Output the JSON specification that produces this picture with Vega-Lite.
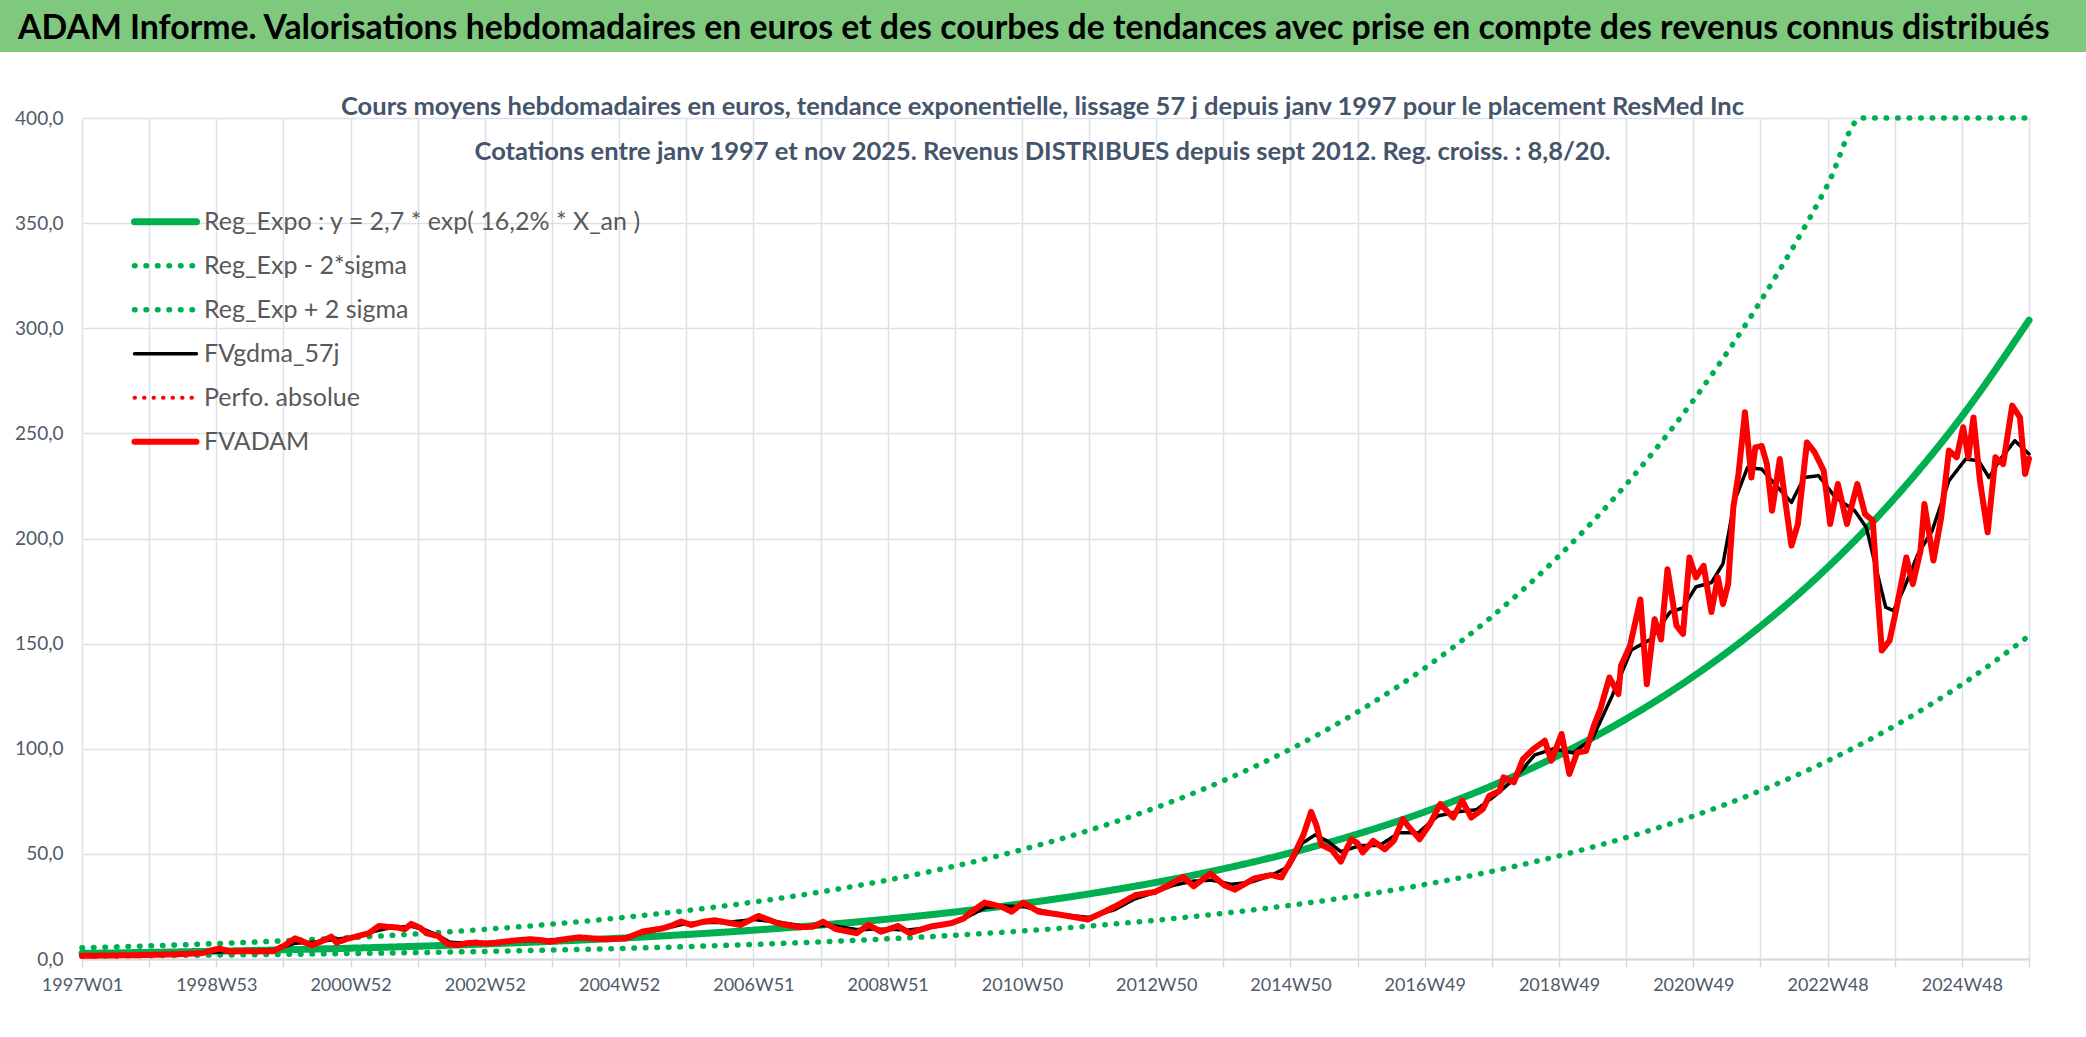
{
  "$schema": "https://vega.github.io/schema/vega-lite/v6.json",
  "padding": 0,
  "background": "white",
  "config": {"view": {"stroke": null}},
  "spacing": 42,
  "datasets": {
    "trend": [
      {"i":0,"v":2.68,"s":"Reg_Expo : y = 2,7 * exp( 16,2% *  X_an )"},
      {"i":52,"v":3.155,"s":"Reg_Expo : y = 2,7 * exp( 16,2% *  X_an )"},
      {"i":104,"v":3.714,"s":"Reg_Expo : y = 2,7 * exp( 16,2% *  X_an )"},
      {"i":156,"v":4.372,"s":"Reg_Expo : y = 2,7 * exp( 16,2% *  X_an )"},
      {"i":208,"v":5.146,"s":"Reg_Expo : y = 2,7 * exp( 16,2% *  X_an )"},
      {"i":260,"v":6.058,"s":"Reg_Expo : y = 2,7 * exp( 16,2% *  X_an )"},
      {"i":312,"v":7.132,"s":"Reg_Expo : y = 2,7 * exp( 16,2% *  X_an )"},
      {"i":364,"v":8.395,"s":"Reg_Expo : y = 2,7 * exp( 16,2% *  X_an )"},
      {"i":416,"v":9.883,"s":"Reg_Expo : y = 2,7 * exp( 16,2% *  X_an )"},
      {"i":468,"v":11.634,"s":"Reg_Expo : y = 2,7 * exp( 16,2% *  X_an )"},
      {"i":520,"v":13.695,"s":"Reg_Expo : y = 2,7 * exp( 16,2% *  X_an )"},
      {"i":572,"v":16.122,"s":"Reg_Expo : y = 2,7 * exp( 16,2% *  X_an )"},
      {"i":624,"v":18.978,"s":"Reg_Expo : y = 2,7 * exp( 16,2% *  X_an )"},
      {"i":676,"v":22.341,"s":"Reg_Expo : y = 2,7 * exp( 16,2% *  X_an )"},
      {"i":728,"v":26.299,"s":"Reg_Expo : y = 2,7 * exp( 16,2% *  X_an )"},
      {"i":780,"v":30.959,"s":"Reg_Expo : y = 2,7 * exp( 16,2% *  X_an )"},
      {"i":832,"v":36.444,"s":"Reg_Expo : y = 2,7 * exp( 16,2% *  X_an )"},
      {"i":884,"v":42.901,"s":"Reg_Expo : y = 2,7 * exp( 16,2% *  X_an )"},
      {"i":936,"v":50.503,"s":"Reg_Expo : y = 2,7 * exp( 16,2% *  X_an )"},
      {"i":988,"v":59.451,"s":"Reg_Expo : y = 2,7 * exp( 16,2% *  X_an )"},
      {"i":1040,"v":69.985,"s":"Reg_Expo : y = 2,7 * exp( 16,2% *  X_an )"},
      {"i":1092,"v":82.385,"s":"Reg_Expo : y = 2,7 * exp( 16,2% *  X_an )"},
      {"i":1144,"v":96.982,"s":"Reg_Expo : y = 2,7 * exp( 16,2% *  X_an )"},
      {"i":1196,"v":114.165,"s":"Reg_Expo : y = 2,7 * exp( 16,2% *  X_an )"},
      {"i":1248,"v":134.393,"s":"Reg_Expo : y = 2,7 * exp( 16,2% *  X_an )"},
      {"i":1300,"v":158.205,"s":"Reg_Expo : y = 2,7 * exp( 16,2% *  X_an )"},
      {"i":1352,"v":186.236,"s":"Reg_Expo : y = 2,7 * exp( 16,2% *  X_an )"},
      {"i":1404,"v":219.234,"s":"Reg_Expo : y = 2,7 * exp( 16,2% *  X_an )"},
      {"i":1456,"v":258.078,"s":"Reg_Expo : y = 2,7 * exp( 16,2% *  X_an )"},
      {"i":1508,"v":303.804,"s":"Reg_Expo : y = 2,7 * exp( 16,2% *  X_an )"},
      {"i":0,"v":1.356,"s":"Reg_Exp - 2*sigma"},
      {"i":52,"v":1.596,"s":"Reg_Exp - 2*sigma"},
      {"i":104,"v":1.879,"s":"Reg_Exp - 2*sigma"},
      {"i":156,"v":2.212,"s":"Reg_Exp - 2*sigma"},
      {"i":208,"v":2.604,"s":"Reg_Exp - 2*sigma"},
      {"i":260,"v":3.065,"s":"Reg_Exp - 2*sigma"},
      {"i":312,"v":3.609,"s":"Reg_Exp - 2*sigma"},
      {"i":364,"v":4.248,"s":"Reg_Exp - 2*sigma"},
      {"i":416,"v":5.001,"s":"Reg_Exp - 2*sigma"},
      {"i":468,"v":5.887,"s":"Reg_Exp - 2*sigma"},
      {"i":520,"v":6.93,"s":"Reg_Exp - 2*sigma"},
      {"i":572,"v":8.158,"s":"Reg_Exp - 2*sigma"},
      {"i":624,"v":9.603,"s":"Reg_Exp - 2*sigma"},
      {"i":676,"v":11.305,"s":"Reg_Exp - 2*sigma"},
      {"i":728,"v":13.307,"s":"Reg_Exp - 2*sigma"},
      {"i":780,"v":15.665,"s":"Reg_Exp - 2*sigma"},
      {"i":832,"v":18.441,"s":"Reg_Exp - 2*sigma"},
      {"i":884,"v":21.708,"s":"Reg_Exp - 2*sigma"},
      {"i":936,"v":25.555,"s":"Reg_Exp - 2*sigma"},
      {"i":988,"v":30.082,"s":"Reg_Exp - 2*sigma"},
      {"i":1040,"v":35.412,"s":"Reg_Exp - 2*sigma"},
      {"i":1092,"v":41.687,"s":"Reg_Exp - 2*sigma"},
      {"i":1144,"v":49.073,"s":"Reg_Exp - 2*sigma"},
      {"i":1196,"v":57.767,"s":"Reg_Exp - 2*sigma"},
      {"i":1248,"v":68.003,"s":"Reg_Exp - 2*sigma"},
      {"i":1300,"v":80.052,"s":"Reg_Exp - 2*sigma"},
      {"i":1352,"v":94.235,"s":"Reg_Exp - 2*sigma"},
      {"i":1404,"v":110.932,"s":"Reg_Exp - 2*sigma"},
      {"i":1456,"v":130.587,"s":"Reg_Exp - 2*sigma"},
      {"i":1508,"v":153.725,"s":"Reg_Exp - 2*sigma"},
      {"i":0,"v":5.298,"s":"Reg_Exp + 2 sigma"},
      {"i":52,"v":6.237,"s":"Reg_Exp + 2 sigma"},
      {"i":104,"v":7.343,"s":"Reg_Exp + 2 sigma"},
      {"i":156,"v":8.643,"s":"Reg_Exp + 2 sigma"},
      {"i":208,"v":10.174,"s":"Reg_Exp + 2 sigma"},
      {"i":260,"v":11.977,"s":"Reg_Exp + 2 sigma"},
      {"i":312,"v":14.1,"s":"Reg_Exp + 2 sigma"},
      {"i":364,"v":16.597,"s":"Reg_Exp + 2 sigma"},
      {"i":416,"v":19.539,"s":"Reg_Exp + 2 sigma"},
      {"i":468,"v":23.0,"s":"Reg_Exp + 2 sigma"},
      {"i":520,"v":27.075,"s":"Reg_Exp + 2 sigma"},
      {"i":572,"v":31.873,"s":"Reg_Exp + 2 sigma"},
      {"i":624,"v":37.52,"s":"Reg_Exp + 2 sigma"},
      {"i":676,"v":44.168,"s":"Reg_Exp + 2 sigma"},
      {"i":728,"v":51.993,"s":"Reg_Exp + 2 sigma"},
      {"i":780,"v":61.206,"s":"Reg_Exp + 2 sigma"},
      {"i":832,"v":72.05,"s":"Reg_Exp + 2 sigma"},
      {"i":884,"v":84.815,"s":"Reg_Exp + 2 sigma"},
      {"i":936,"v":99.844,"s":"Reg_Exp + 2 sigma"},
      {"i":988,"v":117.535,"s":"Reg_Exp + 2 sigma"},
      {"i":1040,"v":138.36,"s":"Reg_Exp + 2 sigma"},
      {"i":1092,"v":162.875,"s":"Reg_Exp + 2 sigma"},
      {"i":1144,"v":191.733,"s":"Reg_Exp + 2 sigma"},
      {"i":1196,"v":225.704,"s":"Reg_Exp + 2 sigma"},
      {"i":1248,"v":265.695,"s":"Reg_Exp + 2 sigma"},
      {"i":1300,"v":312.771,"s":"Reg_Exp + 2 sigma"},
      {"i":1352,"v":368.189,"s":"Reg_Exp + 2 sigma"},
      {"i":1378,"v":400,"s":"Reg_Exp + 2 sigma"},
      {"i":1404,"v":400,"s":"Reg_Exp + 2 sigma"},
      {"i":1456,"v":400,"s":"Reg_Exp + 2 sigma"},
      {"i":1508,"v":400,"s":"Reg_Exp + 2 sigma"}
    ],
    "gdma": [
      {"i":0,"v":1.5,"s":"FVgdma_57j"},{"i":50,"v":1.9,"s":"FVgdma_57j"},{"i":100,"v":3.2,"s":"FVgdma_57j"},{"i":125,"v":3.8,"s":"FVgdma_57j"},{"i":150,"v":4.5,"s":"FVgdma_57j"},{"i":165,"v":7.5,"s":"FVgdma_57j"},{"i":180,"v":8,"s":"FVgdma_57j"},{"i":195,"v":9.2,"s":"FVgdma_57j"},{"i":210,"v":10.5,"s":"FVgdma_57j"},{"i":225,"v":13,"s":"FVgdma_57j"},{"i":240,"v":15,"s":"FVgdma_57j"},{"i":255,"v":15.5,"s":"FVgdma_57j"},{"i":265,"v":14,"s":"FVgdma_57j"},{"i":275,"v":11.5,"s":"FVgdma_57j"},{"i":285,"v":8,"s":"FVgdma_57j"},{"i":300,"v":7.4,"s":"FVgdma_57j"},{"i":320,"v":7.7,"s":"FVgdma_57j"},{"i":340,"v":8.8,"s":"FVgdma_57j"},{"i":360,"v":8.8,"s":"FVgdma_57j"},{"i":380,"v":9.8,"s":"FVgdma_57j"},{"i":400,"v":9.7,"s":"FVgdma_57j"},{"i":420,"v":10,"s":"FVgdma_57j"},{"i":435,"v":12.5,"s":"FVgdma_57j"},{"i":450,"v":14.3,"s":"FVgdma_57j"},{"i":465,"v":16.5,"s":"FVgdma_57j"},{"i":480,"v":17.4,"s":"FVgdma_57j"},{"i":500,"v":17.4,"s":"FVgdma_57j"},{"i":520,"v":18.8,"s":"FVgdma_57j"},{"i":540,"v":17.5,"s":"FVgdma_57j"},{"i":560,"v":15.5,"s":"FVgdma_57j"},{"i":580,"v":16,"s":"FVgdma_57j"},{"i":600,"v":14,"s":"FVgdma_57j"},{"i":620,"v":14.2,"s":"FVgdma_57j"},{"i":640,"v":13.8,"s":"FVgdma_57j"},{"i":660,"v":15.2,"s":"FVgdma_57j"},{"i":680,"v":18.2,"s":"FVgdma_57j"},{"i":700,"v":24.5,"s":"FVgdma_57j"},{"i":715,"v":25.2,"s":"FVgdma_57j"},{"i":730,"v":24.8,"s":"FVgdma_57j"},{"i":745,"v":22.8,"s":"FVgdma_57j"},{"i":760,"v":21,"s":"FVgdma_57j"},{"i":780,"v":19.8,"s":"FVgdma_57j"},{"i":800,"v":23.5,"s":"FVgdma_57j"},{"i":815,"v":28.5,"s":"FVgdma_57j"},{"i":830,"v":31.5,"s":"FVgdma_57j"},{"i":845,"v":35,"s":"FVgdma_57j"},{"i":860,"v":37,"s":"FVgdma_57j"},{"i":875,"v":37.5,"s":"FVgdma_57j"},{"i":890,"v":35.5,"s":"FVgdma_57j"},{"i":905,"v":36.5,"s":"FVgdma_57j"},{"i":920,"v":39.5,"s":"FVgdma_57j"},{"i":935,"v":44,"s":"FVgdma_57j"},{"i":945,"v":55,"s":"FVgdma_57j"},{"i":955,"v":59,"s":"FVgdma_57j"},{"i":965,"v":56,"s":"FVgdma_57j"},{"i":975,"v":51,"s":"FVgdma_57j"},{"i":990,"v":54,"s":"FVgdma_57j"},{"i":1005,"v":54,"s":"FVgdma_57j"},{"i":1020,"v":60,"s":"FVgdma_57j"},{"i":1035,"v":60,"s":"FVgdma_57j"},{"i":1050,"v":68,"s":"FVgdma_57j"},{"i":1065,"v":70,"s":"FVgdma_57j"},{"i":1080,"v":71,"s":"FVgdma_57j"},{"i":1095,"v":78,"s":"FVgdma_57j"},{"i":1110,"v":86,"s":"FVgdma_57j"},{"i":1125,"v":97,"s":"FVgdma_57j"},{"i":1140,"v":100,"s":"FVgdma_57j"},{"i":1155,"v":98,"s":"FVgdma_57j"},{"i":1170,"v":105,"s":"FVgdma_57j"},{"i":1185,"v":125,"s":"FVgdma_57j"},{"i":1200,"v":147,"s":"FVgdma_57j"},{"i":1215,"v":152,"s":"FVgdma_57j"},{"i":1230,"v":165,"s":"FVgdma_57j"},{"i":1240,"v":167,"s":"FVgdma_57j"},{"i":1250,"v":177,"s":"FVgdma_57j"},{"i":1262,"v":179,"s":"FVgdma_57j"},{"i":1271,"v":188,"s":"FVgdma_57j"},{"i":1280,"v":218,"s":"FVgdma_57j"},{"i":1290,"v":233.8,"s":"FVgdma_57j"},{"i":1301,"v":233,"s":"FVgdma_57j"},{"i":1311,"v":226,"s":"FVgdma_57j"},{"i":1324,"v":217.2,"s":"FVgdma_57j"},{"i":1334,"v":229,"s":"FVgdma_57j"},{"i":1345,"v":229.9,"s":"FVgdma_57j"},{"i":1358,"v":219.6,"s":"FVgdma_57j"},{"i":1373,"v":213.2,"s":"FVgdma_57j"},{"i":1382,"v":205.3,"s":"FVgdma_57j"},{"i":1390,"v":184.7,"s":"FVgdma_57j"},{"i":1397,"v":167.3,"s":"FVgdma_57j"},{"i":1403,"v":165.7,"s":"FVgdma_57j"},{"i":1411,"v":176,"s":"FVgdma_57j"},{"i":1422,"v":192.6,"s":"FVgdma_57j"},{"i":1433,"v":203.7,"s":"FVgdma_57j"},{"i":1446,"v":227.5,"s":"FVgdma_57j"},{"i":1459,"v":237.8,"s":"FVgdma_57j"},{"i":1469,"v":237,"s":"FVgdma_57j"},{"i":1477,"v":229,"s":"FVgdma_57j"},{"i":1485,"v":237,"s":"FVgdma_57j"},{"i":1497,"v":246.5,"s":"FVgdma_57j"},{"i":1508,"v":240.2,"s":"FVgdma_57j"}
    ],
    "adam": [
      {"i":0,"v":1.5,"s":"FVADAM"},{"i":25,"v":1.7,"s":"FVADAM"},{"i":51,"v":1.9,"s":"FVADAM"},{"i":75,"v":2.3,"s":"FVADAM"},{"i":93,"v":2.8,"s":"FVADAM"},{"i":106,"v":5.0,"s":"FVADAM"},{"i":115,"v":3.5,"s":"FVADAM"},{"i":125,"v":3.8,"s":"FVADAM"},{"i":135,"v":3.6,"s":"FVADAM"},{"i":148,"v":3.7,"s":"FVADAM"},{"i":157,"v":6.5,"s":"FVADAM"},{"i":165,"v":9.8,"s":"FVADAM"},{"i":178,"v":6.6,"s":"FVADAM"},{"i":186,"v":8.5,"s":"FVADAM"},{"i":193,"v":10.6,"s":"FVADAM"},{"i":197,"v":7.8,"s":"FVADAM"},{"i":205,"v":9.5,"s":"FVADAM"},{"i":212,"v":10.6,"s":"FVADAM"},{"i":222,"v":12.2,"s":"FVADAM"},{"i":230,"v":15.7,"s":"FVADAM"},{"i":237,"v":15.3,"s":"FVADAM"},{"i":244,"v":15.0,"s":"FVADAM"},{"i":250,"v":14.2,"s":"FVADAM"},{"i":255,"v":16.7,"s":"FVADAM"},{"i":262,"v":14.8,"s":"FVADAM"},{"i":267,"v":12.2,"s":"FVADAM"},{"i":276,"v":10.9,"s":"FVADAM"},{"i":283,"v":7.1,"s":"FVADAM"},{"i":291,"v":6.6,"s":"FVADAM"},{"i":298,"v":7.5,"s":"FVADAM"},{"i":305,"v":7.8,"s":"FVADAM"},{"i":313,"v":7.3,"s":"FVADAM"},{"i":321,"v":7.8,"s":"FVADAM"},{"i":335,"v":8.8,"s":"FVADAM"},{"i":347,"v":9.4,"s":"FVADAM"},{"i":355,"v":9.0,"s":"FVADAM"},{"i":363,"v":8.3,"s":"FVADAM"},{"i":375,"v":9.5,"s":"FVADAM"},{"i":385,"v":10.3,"s":"FVADAM"},{"i":395,"v":9.8,"s":"FVADAM"},{"i":405,"v":9.4,"s":"FVADAM"},{"i":413,"v":9.6,"s":"FVADAM"},{"i":421,"v":9.8,"s":"FVADAM"},{"i":434,"v":13.0,"s":"FVADAM"},{"i":442,"v":13.8,"s":"FVADAM"},{"i":450,"v":14.6,"s":"FVADAM"},{"i":457,"v":16.0,"s":"FVADAM"},{"i":464,"v":17.8,"s":"FVADAM"},{"i":472,"v":16.2,"s":"FVADAM"},{"i":481,"v":17.7,"s":"FVADAM"},{"i":490,"v":18.4,"s":"FVADAM"},{"i":500,"v":17.3,"s":"FVADAM"},{"i":510,"v":16.2,"s":"FVADAM"},{"i":524,"v":20.5,"s":"FVADAM"},{"i":539,"v":17.0,"s":"FVADAM"},{"i":555,"v":15.1,"s":"FVADAM"},{"i":566,"v":15.4,"s":"FVADAM"},{"i":574,"v":17.7,"s":"FVADAM"},{"i":584,"v":14.2,"s":"FVADAM"},{"i":600,"v":12.3,"s":"FVADAM"},{"i":609,"v":16.2,"s":"FVADAM"},{"i":619,"v":13.0,"s":"FVADAM"},{"i":632,"v":15.7,"s":"FVADAM"},{"i":641,"v":12.3,"s":"FVADAM"},{"i":657,"v":15.4,"s":"FVADAM"},{"i":673,"v":17.0,"s":"FVADAM"},{"i":683,"v":19.3,"s":"FVADAM"},{"i":689,"v":22.5,"s":"FVADAM"},{"i":699,"v":26.8,"s":"FVADAM"},{"i":712,"v":24.9,"s":"FVADAM"},{"i":720,"v":22.5,"s":"FVADAM"},{"i":729,"v":26.8,"s":"FVADAM"},{"i":741,"v":22.5,"s":"FVADAM"},{"i":754,"v":21.4,"s":"FVADAM"},{"i":763,"v":20.5,"s":"FVADAM"},{"i":779,"v":18.8,"s":"FVADAM"},{"i":792,"v":22.5,"s":"FVADAM"},{"i":802,"v":25.6,"s":"FVADAM"},{"i":816,"v":30.4,"s":"FVADAM"},{"i":831,"v":31.9,"s":"FVADAM"},{"i":840,"v":34.6,"s":"FVADAM"},{"i":853,"v":39.0,"s":"FVADAM"},{"i":861,"v":34.6,"s":"FVADAM"},{"i":874,"v":40.6,"s":"FVADAM"},{"i":885,"v":35.0,"s":"FVADAM"},{"i":893,"v":33.0,"s":"FVADAM"},{"i":908,"v":38.3,"s":"FVADAM"},{"i":921,"v":39.9,"s":"FVADAM"},{"i":929,"v":38.8,"s":"FVADAM"},{"i":938,"v":48.6,"s":"FVADAM"},{"i":946,"v":59.0,"s":"FVADAM"},{"i":952,"v":70.0,"s":"FVADAM"},{"i":956,"v":63.7,"s":"FVADAM"},{"i":960,"v":54.3,"s":"FVADAM"},{"i":968,"v":51.9,"s":"FVADAM"},{"i":975,"v":46.3,"s":"FVADAM"},{"i":983,"v":57.0,"s":"FVADAM"},{"i":988,"v":55.0,"s":"FVADAM"},{"i":992,"v":50.7,"s":"FVADAM"},{"i":1000,"v":56.2,"s":"FVADAM"},{"i":1009,"v":52.2,"s":"FVADAM"},{"i":1016,"v":56.2,"s":"FVADAM"},{"i":1023,"v":66.5,"s":"FVADAM"},{"i":1028,"v":62.6,"s":"FVADAM"},{"i":1036,"v":57.0,"s":"FVADAM"},{"i":1044,"v":64.2,"s":"FVADAM"},{"i":1052,"v":73.7,"s":"FVADAM"},{"i":1062,"v":67.3,"s":"FVADAM"},{"i":1069,"v":75.3,"s":"FVADAM"},{"i":1076,"v":67.3,"s":"FVADAM"},{"i":1085,"v":71.3,"s":"FVADAM"},{"i":1090,"v":77.6,"s":"FVADAM"},{"i":1098,"v":80.0,"s":"FVADAM"},{"i":1101,"v":86.4,"s":"FVADAM"},{"i":1109,"v":84.0,"s":"FVADAM"},{"i":1116,"v":95.0,"s":"FVADAM"},{"i":1124,"v":99.8,"s":"FVADAM"},{"i":1133,"v":103.8,"s":"FVADAM"},{"i":1138,"v":94.3,"s":"FVADAM"},{"i":1146,"v":107.0,"s":"FVADAM"},{"i":1152,"v":88.0,"s":"FVADAM"},{"i":1158,"v":98.2,"s":"FVADAM"},{"i":1165,"v":99.0,"s":"FVADAM"},{"i":1171,"v":111.0,"s":"FVADAM"},{"i":1176,"v":118.8,"s":"FVADAM"},{"i":1183,"v":133.9,"s":"FVADAM"},{"i":1190,"v":126.0,"s":"FVADAM"},{"i":1192,"v":139.5,"s":"FVADAM"},{"i":1199,"v":149.0,"s":"FVADAM"},{"i":1207,"v":171.0,"s":"FVADAM"},{"i":1212,"v":130.7,"s":"FVADAM"},{"i":1218,"v":161.6,"s":"FVADAM"},{"i":1223,"v":152.0,"s":"FVADAM"},{"i":1228,"v":185.4,"s":"FVADAM"},{"i":1235,"v":158.5,"s":"FVADAM"},{"i":1240,"v":154.6,"s":"FVADAM"},{"i":1245,"v":191.0,"s":"FVADAM"},{"i":1250,"v":181.5,"s":"FVADAM"},{"i":1256,"v":187.0,"s":"FVADAM"},{"i":1262,"v":165.0,"s":"FVADAM"},{"i":1267,"v":181.5,"s":"FVADAM"},{"i":1271,"v":168.8,"s":"FVADAM"},{"i":1275,"v":178.3,"s":"FVADAM"},{"i":1279,"v":214.8,"s":"FVADAM"},{"i":1283,"v":230.7,"s":"FVADAM"},{"i":1288,"v":260.0,"s":"FVADAM"},{"i":1293,"v":229.0,"s":"FVADAM"},{"i":1296,"v":243.3,"s":"FVADAM"},{"i":1301,"v":244.0,"s":"FVADAM"},{"i":1305,"v":235.4,"s":"FVADAM"},{"i":1309,"v":213.2,"s":"FVADAM"},{"i":1315,"v":237.8,"s":"FVADAM"},{"i":1319,"v":218.8,"s":"FVADAM"},{"i":1324,"v":196.6,"s":"FVADAM"},{"i":1329,"v":206.9,"s":"FVADAM"},{"i":1336,"v":245.7,"s":"FVADAM"},{"i":1342,"v":241.0,"s":"FVADAM"},{"i":1349,"v":232.2,"s":"FVADAM"},{"i":1354,"v":206.9,"s":"FVADAM"},{"i":1360,"v":225.9,"s":"FVADAM"},{"i":1367,"v":206.9,"s":"FVADAM"},{"i":1375,"v":225.9,"s":"FVADAM"},{"i":1381,"v":211.6,"s":"FVADAM"},{"i":1387,"v":208.5,"s":"FVADAM"},{"i":1390,"v":180.0,"s":"FVADAM"},{"i":1394,"v":146.7,"s":"FVADAM"},{"i":1400,"v":151.4,"s":"FVADAM"},{"i":1405,"v":165.7,"s":"FVADAM"},{"i":1413,"v":191.0,"s":"FVADAM"},{"i":1418,"v":178.3,"s":"FVADAM"},{"i":1424,"v":194.2,"s":"FVADAM"},{"i":1427,"v":216.4,"s":"FVADAM"},{"i":1434,"v":189.5,"s":"FVADAM"},{"i":1440,"v":210.0,"s":"FVADAM"},{"i":1446,"v":241.8,"s":"FVADAM"},{"i":1452,"v":238.6,"s":"FVADAM"},{"i":1457,"v":252.9,"s":"FVADAM"},{"i":1461,"v":238.6,"s":"FVADAM"},{"i":1465,"v":257.6,"s":"FVADAM"},{"i":1470,"v":227.5,"s":"FVADAM"},{"i":1476,"v":202.9,"s":"FVADAM"},{"i":1482,"v":238.6,"s":"FVADAM"},{"i":1488,"v":235.4,"s":"FVADAM"},{"i":1495,"v":263.2,"s":"FVADAM"},{"i":1501,"v":257.6,"s":"FVADAM"},{"i":1505,"v":230.7,"s":"FVADAM"},{"i":1508,"v":238.0,"s":"FVADAM"}
    ]
  },
  "vconcat": [
    {
      "width": 2086,
      "height": 52,
      "view": {"fill": "#7FC97F", "stroke": null},
      "data": {"values": [{"t": "ADAM Informe. Valorisations hebdomadaires en euros et des courbes de tendances avec prise en compte des revenus connus distribués"}]},
      "mark": {"type": "text", "align": "left", "baseline": "middle", "dx": 18, "dy": 3, "font": "Lato", "fontSize": 33.8, "fontWeight": "bold", "color": "#000000"},
      "encoding": {
        "text": {"field": "t"},
        "x": {"datum": 0, "type": "quantitative", "scale": {"domain": [0, 1]}, "axis": null},
        "y": {"datum": 0.5, "type": "quantitative", "scale": {"domain": [0, 1]}, "axis": null}
      }
    },
    {
      "spacing": 0,
      "hconcat": [
        {
          "width": 14,
          "height": 10,
          "data": {"values": [{}]},
          "mark": {"type": "text"},
          "encoding": {}
        },
        {
          "width": 1947,
          "height": 841,
          "title": {
            "text": ["Cours moyens hebdomadaires en euros, tendance exponentielle, lissage 57 j depuis janv 1997 pour le placement ResMed Inc", "Cotations entre janv 1997 et nov 2025. Revenus DISTRIBUES depuis sept 2012. Reg. croiss. : 8,8/20."],
            "font": "Lato",
            "fontSize": 25.5,
            "fontWeight": "bold",
            "color": "#44546A",
            "lineHeight": 45,
            "offset": -56,
            "anchor": "middle",
            "dx": -13
          },
          "encoding": {
            "x": {
              "field": "i", "type": "quantitative",
              "scale": {"domain": [0, 1508], "nice": false, "zero": false},
              "axis": {
                "title": null,
                "values": [0,52,104,156,208,260,312,364,416,468,520,572,624,676,728,780,832,884,936,988,1040,1092,1144,1196,1248,1300,1352,1404,1456,1508],
                "labelExpr": "datum.value % 104 == 0 && datum.value <= 1456 ? ['1997W01','1998W53','2000W52','2002W52','2004W52','2006W51','2008W51','2010W50','2012W50','2014W50','2016W49','2018W49','2020W49','2022W48','2024W48'][datum.value / 104] : ''",
                "labelOverlap": false,
                "labelFlush": false,
                "labelFont": "Lato",
                "labelFontSize": 18,
                "labelColor": "#4F5A68",
                "labelPadding": 9,
                "grid": true,
                "gridColor": "#DDE1E7",
                "gridWidth": 1.5,
                "domainColor": "#D5D9DF",
                "domainWidth": 2,
                "tickColor": "#D5D9DF",
                "tickSize": 8,
                "tickWidth": 1.5
              }
            },
            "y": {
              "field": "v", "type": "quantitative",
              "scale": {"domain": [0, 400], "nice": false},
              "axis": {
                "title": null,
                "values": [0,50,100,150,200,250,300,350,400],
                "labelExpr": "replace(format(datum.value, '.1f'), '.', ',')",
                "labelFont": "Lato",
                "labelFontSize": 19,
                "labelColor": "#4F5A68",
                "labelPadding": 19,
                "labelFlush": false,
                "grid": true,
                "gridColor": "#DDE1E7",
                "gridWidth": 1.5,
                "domain": false,
                "ticks": false
              }
            },
            "color": {
              "field": "s", "type": "nominal",
              "scale": {
                "domain": ["Reg_Expo : y = 2,7 * exp( 16,2% *  X_an )", "Reg_Exp - 2*sigma", "Reg_Exp + 2 sigma", "FVgdma_57j", "Perfo. absolue", "FVADAM"],
                "range": ["#00B050", "#00B050", "#00B050", "#000000", "#FF0000", "#FF0000"]
              },
              "legend": {"title": null, "orient": "none", "legendX": 131, "legendY": 200, "symbolType": "stroke", "symbolSize": 3844, "clipHeight": 43.6, "rowPadding": 0, "labelOffset": 4, "labelFont": "Lato", "labelFontSize": 25, "labelColor": "#595959", "labelLimit": 1000, "padding": 0, "encode": {"symbols": {"update": {"strokeCap": {"value": "round"}}}}}
            },
            "strokeDash": {
              "field": "s", "type": "nominal",
              "scale": {
                "domain": ["Reg_Expo : y = 2,7 * exp( 16,2% *  X_an )", "Reg_Exp - 2*sigma", "Reg_Exp + 2 sigma", "FVgdma_57j", "Perfo. absolue", "FVADAM"],
                "range": [[1, 0], [0.5, 11], [0.5, 11], [1, 0], [0.5, 9], [1, 0]]
              },
              "legend": {"title": null, "orient": "none", "legendX": 131, "legendY": 200, "symbolType": "stroke", "symbolSize": 3844, "clipHeight": 43.6, "rowPadding": 0, "labelOffset": 4, "labelFont": "Lato", "labelFontSize": 25, "labelColor": "#595959", "labelLimit": 1000, "padding": 0, "encode": {"symbols": {"update": {"strokeCap": {"value": "round"}}}}}
            },
            "strokeWidth": {
              "field": "s", "type": "nominal",
              "scale": {
                "type": "ordinal",
                "domain": ["Reg_Expo : y = 2,7 * exp( 16,2% *  X_an )", "Reg_Exp - 2*sigma", "Reg_Exp + 2 sigma", "FVgdma_57j", "Perfo. absolue", "FVADAM"],
                "range": [7, 5.5, 5.5, 3.5, 4, 6]
              },
              "legend": {"title": null, "orient": "none", "legendX": 131, "legendY": 200, "symbolType": "stroke", "symbolSize": 3844, "clipHeight": 43.6, "rowPadding": 0, "labelOffset": 4, "labelFont": "Lato", "labelFontSize": 25, "labelColor": "#595959", "labelLimit": 1000, "padding": 0, "encode": {"symbols": {"update": {"strokeCap": {"value": "round"}}}}}
            }
          },
          "layer": [
            {
              "data": {"values": [{}]},
              "mark": {"type": "rect"},
              "encoding": {
                "x": {"datum": 197, "type": "quantitative"},
                "x2": {"datum": 1291},
                "y": {"datum": 375, "type": "quantitative"},
                "y2": {"datum": 401},
                "color": {"value": "white"},
                "strokeDash": {"value": [1, 0]},
                "strokeWidth": {"value": 0}
              }
            },
            {"data": {"name": "trend"}, "mark": {"type": "line", "interpolate": "monotone", "strokeCap": "round", "strokeJoin": "round"}},
            {"data": {"name": "gdma"}, "mark": {"type": "line", "strokeCap": "round", "strokeJoin": "round"}},
            {"data": {"name": "adam"}, "mark": {"type": "line", "strokeCap": "round", "strokeJoin": "round"}}
          ]
        }
      ]
    }
  ]
}
